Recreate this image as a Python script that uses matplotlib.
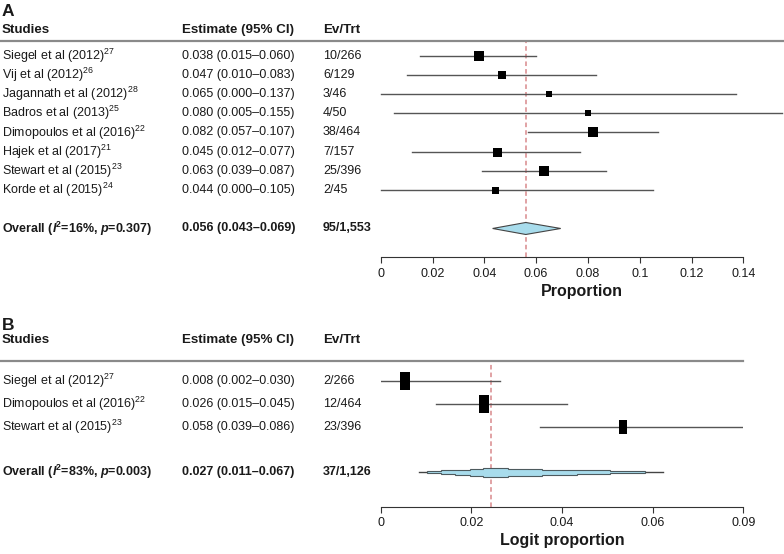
import matplotlib
matplotlib.use("Agg")
import matplotlib.pyplot as plt
import matplotlib.transforms as mtransforms
from matplotlib.patches import Polygon
from matplotlib.path import Path

plt.rcParams['font.family'] = ['Liberation Sans', 'DejaVu Sans']
plt.rcParams['mathtext.fontset'] = 'custom'
plt.rcParams['mathtext.rm'] = 'Liberation Sans'
plt.rcParams['mathtext.it'] = 'Liberation Sans:italic'
plt.rcParams['mathtext.bf'] = 'Liberation Sans:bold'
plt.rcParams['mathtext.bfit'] = 'Liberation Sans:bold:italic'

# ---- panel A data: proportion ----
studies_a = ["Siegel et al (2012)$^{27}$", "Vij et al (2012)$^{26}$",
             "Jagannath et al (2012)$^{28}$", "Badros et al (2013)$^{25}$",
             "Dimopoulos et al (2016)$^{22}$", "Hajek et al (2017)$^{21}$",
             "Stewart et al (2015)$^{23}$", "Korde et al (2015)$^{24}$"]
est_a = [0.038, 0.047, 0.065, 0.080, 0.082, 0.045, 0.063, 0.044]
lo_a = [0.015, 0.010, 0.000, 0.005, 0.057, 0.012, 0.039, 0.000]
hi_a = [0.060, 0.083, 0.137, 0.155, 0.107, 0.077, 0.087, 0.105]
ci_text_a = ["0.038 (0.015–0.060)", "0.047 (0.010–0.083)", "0.065 (0.000–0.137)",
             "0.080 (0.005–0.155)", "0.082 (0.057–0.107)", "0.045 (0.012–0.077)",
             "0.063 (0.039–0.087)", "0.044 (0.000–0.105)"]
evtrt_a = ["10/266", "6/129", "3/46", "4/50", "38/464", "7/157", "25/396", "2/45"]
weight_a = [10.7, 8.3, 6.7, 5.7, 9.7, 9.0, 10.0, 7.0]
overall_a = (0.056, 0.0432, 0.0695)
overall_label_a = r"Overall ($\mathbfit{I}^{\mathbf{2}}$=16%, $\mathbfit{p}$=0.307)"
overall_ci_a = "0.056 (0.043–0.069)"
overall_ev_a = "95/1,553"
ticks_a = [0, 0.02, 0.04, 0.06, 0.08, 0.10, 0.12, 0.14]
ticklabels_a = ["0", "0.02", "0.04", "0.06", "0.08", "0.1", "0.12", "0.14"]

# ---- panel B data: logit proportion (positions as drawn) ----
studies_b = ["Siegel et al (2012)$^{27}$", "Dimopoulos et al (2016)$^{22}$",
             "Stewart et al (2015)$^{23}$"]
est_b = [0.0054, 0.0227, 0.0535]
lo_b = [0.0, 0.0122, 0.0352]
hi_b = [0.0263, 0.0410, 0.080]
ci_text_b = ["0.008 (0.002–0.030)", "0.026 (0.015–0.045)", "0.058 (0.039–0.086)"]
evtrt_b = ["2/266", "12/464", "23/396"]
weight_b = [18, 18, 14]
overall_b_est = 0.0243
band_lo_b = [0.0085, 0.0103, 0.0133, 0.0164, 0.0197, 0.0226]
band_hi_b = [0.0622, 0.0583, 0.0507, 0.0432, 0.0356, 0.0280]
overall_label_b = r"Overall ($\mathbfit{I}^{\mathbf{2}}$=83%, $\mathbfit{p}$=0.003)"
overall_ci_b = "0.027 (0.011–0.067)"
overall_ev_b = "37/1,126"
ticks_b = [0, 0.02, 0.04, 0.06, 0.08]
ticklabels_b = ["0", "0.02", "0.04", "0.06", "0.09"]

W, H = 784, 554
fig = plt.figure(figsize=(7.84, 5.54), dpi=100)


def rect(l, t, r, b):
    return [l / W, 1 - b / H, (r - l) / W, (b - t) / H]


TXT = "#1a1a1a"
LINE = "#555555"
FILL = "#a8dcec"
REF = "#d9898c"
box_path = Path([(-0.5, -0.5), (0.5, -0.5), (0.5, 0.5), (-0.5, 0.5), (-0.5, -0.5)],
                [Path.MOVETO, Path.LINETO, Path.LINETO, Path.LINETO, Path.CLOSEPOLY])
tall_path = Path([(-0.3, -0.5), (0.3, -0.5), (0.3, 0.5), (-0.3, 0.5), (-0.3, -0.5)],
                 [Path.MOVETO, Path.LINETO, Path.LINETO, Path.LINETO, Path.CLOSEPOLY])


def setup(ax, xlim, ylim, ticks, labels, bound, xlabel, rule_right, label_y, head_y, letter):
    ax.set_xlim(*xlim)
    ax.set_ylim(*ylim)
    for s in ["top", "left", "right"]:
        ax.spines[s].set_visible(False)
    ax.spines["bottom"].set_bounds(0, bound)
    ax.spines["bottom"].set_color("#333333")
    ax.set_yticks([])
    ax.set_xticks(ticks)
    ax.set_xticklabels(labels, fontsize=9, color=TXT)
    ax.tick_params(axis="x", length=4.5, color="#333333", pad=3)
    ax.set_xlabel(xlabel, fontsize=11.5, fontweight="bold", color=TXT, labelpad=3)
    tr = mtransforms.blended_transform_factory(fig.transFigure, ax.transData)
    ax.plot([0, rule_right / W], [ylim[1], ylim[1]], color="#8a8a8a", lw=1.6,
            transform=tr, clip_on=False)
    for x, t in zip([2 / W, 181.5 / W, 323 / W], ["Studies", "Estimate (95% CI)", "Ev/Trt"]):
        ax.text(x, head_y, t, transform=tr, fontsize=9.6, fontweight="bold",
                color=TXT, va="center", ha="left")
    ax.text(2 / W, label_y, letter, transform=tr, fontsize=12.5, fontweight="bold",
            color=TXT, va="center", ha="left")
    return tr


def rows(ax, tr, names, cis, evs, y0=0):
    for i, (n, c, e) in enumerate(zip(names, cis, evs)):
        y = y0 + i
        ax.text(2 / W, y, n, transform=tr, fontsize=9, color=TXT, va="center")
        ax.text(181.5 / W, y, c, transform=tr, fontsize=9, color=TXT, va="center")
        ax.text(323 / W, y, e, transform=tr, fontsize=9, color=TXT, va="center")


def overall_text(ax, tr, y, label, ci, ev):
    for x, t in zip([2 / W, 181.5 / W, 323 / W], [label, ci, ev]):
        ax.text(x, y, t, transform=tr, fontsize=9, fontweight="bold", color=TXT, va="center")


# ---------------- Panel A ----------------
axA = fig.add_axes(rect(380.7, 41, 784, 257.3))
trA = setup(axA, (0, 0.1557), (10.5, -0.76), ticks_a, ticklabels_a, 0.14,
            "Proportion", W, -2.3, -1.34, "A")
rows(axA, trA, studies_a, ci_text_a, evtrt_a)
n_a = len(studies_a)
y_over_a = n_a + 1
axA.axvline(overall_a[0], color=REF, lw=1.1, ls=(0, (3, 2)), zorder=1)
for i in range(n_a):
    axA.plot([lo_a[i], hi_a[i]], [i, i], color=LINE, lw=1.0, zorder=2, clip_on=False)
    axA.plot(est_a[i], i, marker=box_path, ms=weight_a[i] * 0.72, color="black",
             mec="black", mew=0, zorder=3)
h = 6 / 19.2
axA.add_patch(Polygon([(overall_a[1], y_over_a), (overall_a[0], y_over_a - h),
                       (overall_a[2], y_over_a), (overall_a[0], y_over_a + h)],
                      closed=True, fc=FILL, ec="#444444", lw=0.8, zorder=3))
overall_text(axA, trA, y_over_a, overall_label_a, overall_ci_a, overall_ev_a)

# ---------------- Panel B ----------------
axB = fig.add_axes(rect(380.7, 360.7, 743.3, 506.7))
trB = setup(axB, (0, 0.08), (5.51, -0.89), ticks_b, ticklabels_b, 0.08,
            "Logit proportion", 743.3, -2.45, -1.78, "B")
rows(axB, trB, studies_b, ci_text_b, evtrt_b)
n_b = len(studies_b)
y_over_b = n_b + 1
axB.axvline(overall_b_est, color=REF, lw=1.1, ls=(0, (3, 2)), zorder=1)
for i in range(n_b):
    axB.plot([lo_b[i], hi_b[i]], [i, i], color=LINE, lw=1.0, zorder=2)
    axB.plot(est_b[i], i, marker=tall_path, ms=weight_b[i] * 0.72, color="black",
             mec="black", mew=0, zorder=3)
axB.plot([band_lo_b[0], band_hi_b[0]], [y_over_b, y_over_b], color="#444444", lw=1.0, zorder=2)

# stepped outline of the overall band
half_px = [1.2, 1.9, 2.6, 3.3, 4.4]
hs = [p / 22.8 for p in half_px]
lows = band_lo_b[1:]
highs = band_hi_b[1:]
top = [(lows[0], 0.0)]
for k in range(len(hs)):
    if k > 0:
        top.append((lows[k], hs[k - 1]))
    top.append((lows[k], hs[k]))
for k in range(len(hs) - 1, -1, -1):
    top.append((highs[k], hs[k]))
    if k > 0:
        top.append((highs[k], hs[k - 1]))
top.append((highs[0], 0.0))
bottom = [(x, -yy) for x, yy in reversed(top[1:-1])]
verts = [(x, y_over_b - yy) for x, yy in top + bottom]
axB.add_patch(Polygon(verts, closed=True, fc=FILL, ec="#4d5a5e", lw=0.8, zorder=3))
overall_text(axB, trB, y_over_b, overall_label_b, overall_ci_b, overall_ev_b)

fig.savefig("out.png", dpi=100)
